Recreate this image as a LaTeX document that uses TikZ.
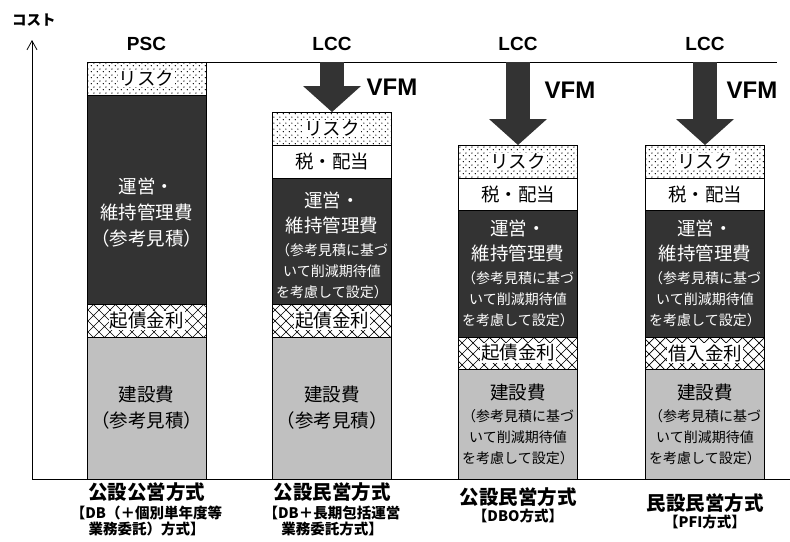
\documentclass[tikz,border=0pt]{standalone}
\usepackage{fontspec}
\setmainfont{Noto Sans CJK JP}
\newfontfamily\latin{Liberation Sans}
\usetikzlibrary{arrows.meta,positioning,patterns}
\definecolor{opcost}{HTML}{333333}
\definecolor{buildcost}{HTML}{C0C0C0}
\pgfdeclarepatternformonly{riskdots}{\pgfpointorigin}{\pgfpoint{6pt}{6pt}}{\pgfpoint{6pt}{6pt}}{%
  \pgfpathcircle{\pgfpoint{1.5pt}{1.5pt}}{0.75pt}%
  \pgfpathcircle{\pgfpoint{4.5pt}{4.5pt}}{0.75pt}%
  \pgfusepath{fill}}
\pgfdeclarepatternformonly{ratehatch}{\pgfpoint{-1pt}{-1pt}}{\pgfpoint{12pt}{12pt}}{\pgfpoint{11pt}{11pt}}{%
  \pgfsetlinewidth{0.7pt}%
  \pgfpathmoveto{\pgfpointorigin}\pgfpathlineto{\pgfpoint{11pt}{11pt}}%
  \pgfpathmoveto{\pgfpoint{0pt}{11pt}}\pgfpathlineto{\pgfpoint{11pt}{0pt}}%
  \pgfusepath{stroke}}
\tikzset{
  layer/.style={draw=black,line width=0.8pt,minimum width=119pt,inner sep=0pt,outer sep=0pt,
    align=center,font=\fontsize{18.5}{26}\selectfont},
  risklayer/.style={layer,minimum height=33pt,pattern=riskdots},
  taxlayer/.style={layer,fill=white},
  oplayer/.style={layer,fill=opcost,text=white},
  ratelayer/.style={layer,pattern=ratehatch},
  buildlayer/.style={layer,fill=buildcost},
  vfm/.style={-{Triangle[width=58pt,length=26pt,line width=0pt]},line width=24pt,draw=opcost},
  axis/.style={-{Straight Barb[length=9pt,width=10pt]},line width=0.8pt},
  costlabel/.style={font=\latin\bfseries\fontsize{19}{22}\selectfont},
  vfmlabel/.style={font=\latin\bfseries\fontsize{24}{26}\selectfont},
  method/.style={font=\bfseries\fontsize{19.5}{22}\selectfont},
  scheme/.style={font=\bfseries\fontsize{14.5}{16}\selectfont,align=center}
}
\newcommand{\bgtext}[1]{{\setlength{\fboxsep}{1pt}\colorbox{white}{#1}}}
\newcommand{\sm}[1]{{\fontsize{14}{21}\selectfont #1}}

\begin{document}
\begin{tikzpicture}[x=1pt,y=-1pt]
  \useasboundingbox (0,0) rectangle (790,541);

  % axes
  \coordinate (origin) at (32,479);
  \coordinate (ytop) at (32,40);
  \coordinate (xend) at (790,479);
  \draw[axis] (origin) -- (ytop);
  \draw[line width=0.8pt] (origin) -- (xend);
  \node[font=\bfseries\fontsize{14.5}{16}\selectfont] (ylabel) at (34,20) {コスト};

  % public sector comparator
  \node[buildlayer,minimum height=142pt,anchor=south] (b1) at (146.5,479) {建設費\\（参考見積）};
  \node[ratelayer,minimum height=33pt,above=0pt of b1] (k1) {\bgtext{起債金利}};
  \node[oplayer,minimum height=209pt,above=0pt of k1] (o1) {\rule{0pt}{42pt}運営・\\維持管理費\\（参考見積）};
  \node[risklayer,above=0pt of o1] (r1) {\bgtext{リスク}};

  % DB + long-term operation
  \node[buildlayer,minimum height=142pt,anchor=south] (b2) at (332,479) {建設費\\（参考見積）};
  \node[ratelayer,minimum height=33pt,above=0pt of b2] (k2) {\bgtext{起債金利}};
  \node[oplayer,minimum height=126pt,above=0pt of k2] (o2) {\rule{0pt}{24pt}運営・\\[-1pt]維持管理費\\[-3pt]\sm{（参考見積に基づ}\\[-5pt]\sm{いて削減期待値}\\[-5pt]\sm{を考慮して設定）}};
  \node[taxlayer,minimum height=33pt,above=0pt of o2] (t2) {税・配当};
  \node[risklayer,above=0pt of t2] (r2) {\bgtext{リスク}};

  % DBO
  \node[buildlayer,minimum height=110pt,anchor=south] (b3) at (518,479) {建設費\\[-4pt]\sm{（参考見積に基づ}\\[-5pt]\sm{いて削減期待値}\\[-5pt]\sm{を考慮して設定）}};
  \node[ratelayer,minimum height=32pt,above=0pt of b3] (k3) {\bgtext{起債金利}};
  \node[oplayer,minimum height=127pt,above=0pt of k3] (o3) {運営・\\[-1pt]維持管理費\\[-3pt]\sm{（参考見積に基づ}\\[-5pt]\sm{いて削減期待値}\\[-5pt]\sm{を考慮して設定）}};
  \node[taxlayer,minimum height=32pt,above=0pt of o3] (t3) {税・配当};
  \node[risklayer,above=0pt of t3] (r3) {\bgtext{リスク}};

  % PFI
  \node[buildlayer,minimum height=110pt,anchor=south] (b4) at (705,479) {建設費\\[-4pt]\sm{（参考見積に基づ}\\[-5pt]\sm{いて削減期待値}\\[-5pt]\sm{を考慮して設定）}};
  \node[ratelayer,minimum height=32pt,above=0pt of b4] (k4) {\bgtext{借入金利}};
  \node[oplayer,minimum height=127pt,above=0pt of k4] (o4) {運営・\\[-1pt]維持管理費\\[-3pt]\sm{（参考見積に基づ}\\[-5pt]\sm{いて削減期待値}\\[-5pt]\sm{を考慮して設定）}};
  \node[taxlayer,minimum height=32pt,above=0pt of o4] (t4) {税・配当};
  \node[risklayer,above=0pt of t4] (r4) {\bgtext{リスク}};

  % PSC level and VFM arrows
  \coordinate (topend) at (777,62);
  \draw[line width=0.8pt] (r1.north east) -- (topend);
  \draw[vfm] (r2.north |- r1.north) -- (r2.north);
  \draw[vfm] (r3.north |- r1.north) -- (r3.north);
  \draw[vfm] (r4.north |- r1.north) -- (r4.north);
  \node[vfmlabel] (v2) at (392,87) {VFM};
  \node[vfmlabel] (v3) at (570,90) {VFM};
  \node[vfmlabel] (v4) at (752,90) {VFM};

  \node[costlabel] (psc) at (146.5,44) {PSC};
  \node[costlabel] (lcc2) at (332,44) {LCC};
  \node[costlabel] (lcc3) at (518,44) {LCC};
  \node[costlabel] (lcc4) at (705,44) {LCC};

  % methods
  \node[method] (m1) at (146.5,492) {公設公営方式};
  \node[scheme] (s1) at (146.5,521) {【DB（＋個別単年度等\\業務委託）方式】};
  \node[method] (m2) at (332,492) {公設民営方式};
  \node[scheme] (s2) at (332,521) {【DB＋長期包括運営\\業務委託方式】};
  \node[method] (m3) at (518,497) {公設民営方式};
  \node[scheme] (s3) at (518,516) {【DBO方式】};
  \node[method] (m4) at (705,503) {民設民営方式};
  \node[scheme] (s4) at (705,522) {【PFI方式】};
\end{tikzpicture}
\end{document}
